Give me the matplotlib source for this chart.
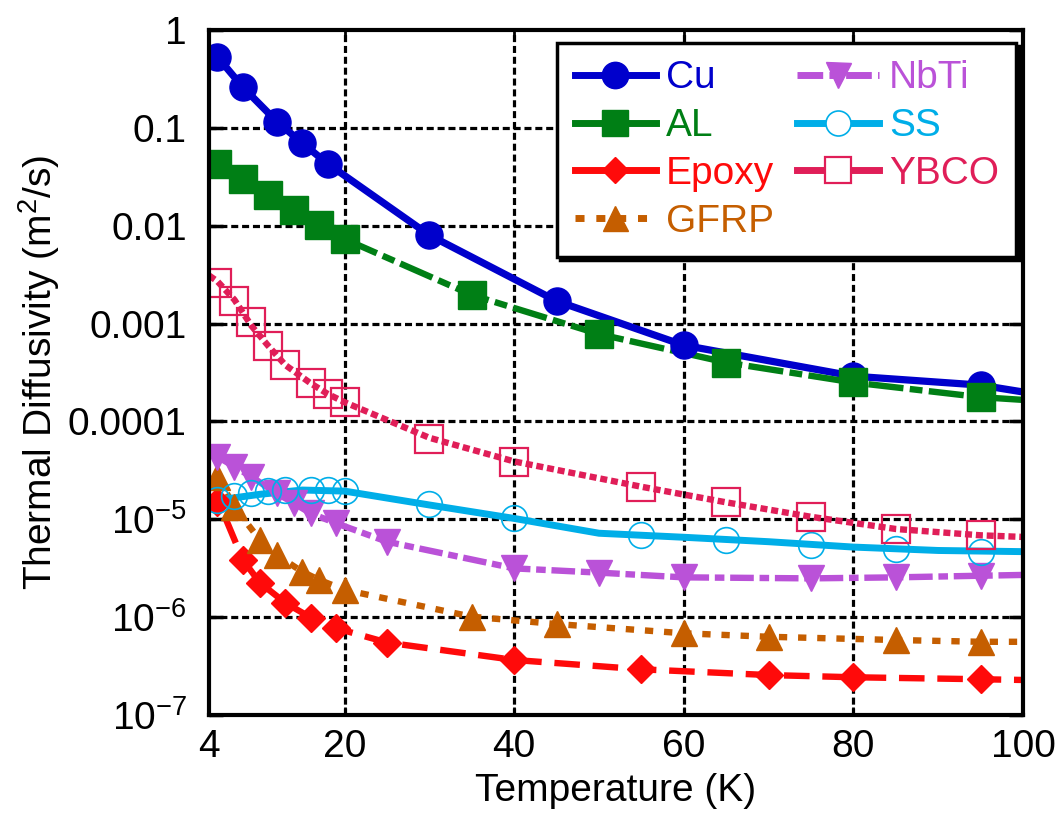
import matplotlib
matplotlib.use("Agg")
import matplotlib.pyplot as plt
from matplotlib.lines import Line2D

plt.rcParams['font.family'] = ['Liberation Sans', 'DejaVu Sans']
plt.rcParams['mathtext.fontset'] = 'custom'
plt.rcParams['mathtext.rm'] = 'Liberation Sans'
plt.rcParams['mathtext.it'] = 'Liberation Sans:italic'
plt.rcParams['mathtext.bf'] = 'Liberation Sans:bold'

# ---------------- data ----------------
cu_T = [5, 8, 12, 15, 18, 30, 45, 60, 80, 95]
cu_D = [0.53, 0.26, 0.116, 0.070, 0.043, 0.0080, 0.0017, 6.0e-4, 2.9e-4, 2.35e-4]
cu_line_T = [5, 8, 12, 15, 18, 30, 45, 60, 80, 95, 100]
cu_line_D = [0.53, 0.26, 0.116, 0.070, 0.043, 0.0080, 0.0017, 6.0e-4, 2.9e-4, 2.35e-4, 2.0e-4]

al_T = [5, 8, 11, 14, 17, 20, 35, 50, 65, 80, 95]
al_D = [0.0427, 0.030, 0.0206, 0.0145, 0.0102, 0.0073, 0.00196, 7.8e-4, 4.0e-4, 2.5e-4, 1.77e-4]
al_line_T = [20, 35, 50, 65, 80, 95, 100]
al_line_D = [0.0073, 0.00196, 7.8e-4, 4.0e-4, 2.5e-4, 1.77e-4, 1.66e-4]

epoxy_T = [5, 8, 10, 13, 16, 19, 25, 40, 55, 70, 80, 95]
epoxy_D = [1.51e-5, 3.84e-6, 2.25e-6, 1.40e-6, 9.9e-7, 7.7e-7, 5.5e-7, 3.65e-7,
           2.93e-7, 2.56e-7, 2.43e-7, 2.32e-7]
epoxy_line_T = [6, 8, 10, 13, 16, 19, 25, 40, 55, 70, 80, 95, 100]
epoxy_line_D = [1.0e-5, 3.84e-6, 2.25e-6, 1.40e-6, 9.9e-7, 7.7e-7, 5.5e-7, 3.65e-7,
                2.93e-7, 2.56e-7, 2.43e-7, 2.32e-7, 2.28e-7]

gfrp_T = [5, 7, 10, 12, 15, 17, 20, 35, 45, 60, 70, 85, 95]
gfrp_D = [2.72e-5, 1.34e-5, 6.14e-6, 4.31e-6, 2.91e-6, 2.40e-6, 1.90e-6, 1.01e-6,
          8.5e-7, 6.84e-7, 6.3e-7, 5.84e-7, 5.6e-7]
gfrp_line_T = [5, 7, 10, 12, 15, 17, 20, 35, 45, 60, 70, 85, 95, 100]
gfrp_line_D = [2.72e-5, 1.34e-5, 6.14e-6, 4.31e-6, 2.91e-6, 2.40e-6, 1.90e-6, 1.01e-6,
               8.5e-7, 6.84e-7, 6.3e-7, 5.84e-7, 5.6e-7, 5.6e-7]

nbti_T = [5, 7, 9, 12, 14, 16, 19, 25, 40, 50, 60, 75, 85, 95]
nbti_D = [4.36e-5, 3.45e-5, 2.72e-5, 1.84e-5, 1.46e-5, 1.15e-5, 9.1e-6, 5.9e-6,
          3.15e-6, 2.85e-6, 2.55e-6, 2.49e-6, 2.55e-6, 2.65e-6]
nbti_line_T = [5, 7, 9, 12, 14, 16, 19, 25, 40, 50, 60, 75, 85, 95, 100]
nbti_line_D = [4.36e-5, 3.45e-5, 2.72e-5, 1.84e-5, 1.46e-5, 1.15e-5, 9.1e-6, 5.9e-6,
               3.15e-6, 2.85e-6, 2.55e-6, 2.49e-6, 2.55e-6, 2.65e-6, 2.7e-6]

ss_T = [5, 7, 9, 11, 13, 16, 18, 20, 30, 40, 55, 65, 75, 85, 95]
ss_D = [1.57e-5, 1.73e-5, 1.87e-5, 1.96e-5, 1.99e-5, 1.99e-5, 1.99e-5, 1.96e-5,
        1.43e-5, 1.02e-5, 6.86e-6, 6.14e-6, 5.46e-6, 4.93e-6, 4.67e-6]
ss_line_T = [5, 10, 15, 20, 30, 40, 50, 60, 70, 80, 90, 100]
ss_line_D = [1.57e-5, 1.80e-5, 1.99e-5, 1.94e-5, 1.40e-5, 1.02e-5, 7.2e-6, 6.55e-6,
             5.9e-6, 5.2e-6, 4.8e-6, 4.67e-6]

ybco_T = [5, 7, 9, 11, 13, 16, 18, 20, 30, 40, 55, 65, 75, 85, 95]
ybco_D = [2.58e-3, 1.70e-3, 1.03e-3, 5.9e-4, 3.77e-4, 2.45e-4, 1.91e-4, 1.57e-4,
          6.57e-5, 3.88e-5, 2.15e-5, 1.49e-5, 1.06e-5, 7.96e-6, 6.86e-6]
ybco_line_T = [4, 5, 7, 9, 11, 13, 16, 18, 20, 30, 40, 55, 65, 75, 85, 95, 100]
ybco_line_D = [3.1e-3, 2.7e-3, 1.75e-3, 9.5e-4, 5.9e-4, 3.77e-4, 2.45e-4, 1.91e-4, 1.57e-4,
               6.8e-5, 3.9e-5, 2.15e-5, 1.49e-5, 1.06e-5, 7.96e-6, 6.86e-6, 6.6e-6]

x_ticks = [4, 20, 40, 60, 80, 100]
y_ticks = [1e-7, 1e-6, 1e-5, 1e-4, 1e-3, 1e-2, 1e-1, 1]
y_ticklabels = ['10$^{-7}$', '10$^{-6}$', '10$^{-5}$', '0.0001', '0.001', '0.01', '0.1', '1']

C_CU = '#0000CC'
C_AL = '#007F15'
C_EP = '#FF0A0A'
C_GF = '#C55E00'
C_NB = '#BA52D8'
C_SS = '#00AEE8'
C_YB = '#E01E58'

FS = 28

fig = plt.figure(figsize=(10.61, 8.19), dpi=100)
ax = fig.add_axes([209/1061, 1 - 715/819, (1023-209)/1061, (715-30)/819])
ax.set_yscale('log')
ax.set_xlim(4, 100)
ax.set_ylim(1e-7, 1)

# grid
for xv in x_ticks[1:-1]:
    ax.axvline(xv, color='black', lw=2.3, ls=(0, (2.2, 1.2)), zorder=1)
for yv in y_ticks[1:-1]:
    ax.axhline(yv, color='black', lw=2.3, ls=(0, (2.2, 1.2)), zorder=1)

lw = 4.6
# Cu
ax.plot(cu_line_T, cu_line_D, color=C_CU, lw=5.2, ls='-', zorder=3)
ax.plot(cu_T, cu_D, ls='none', marker='o', ms=19.5, color=C_CU, zorder=4)
# AL
ax.plot(al_line_T, al_line_D, color=C_AL, lw=lw, ls=(0, (5.5, 1.0, 2.0, 1.0)), zorder=3)
ax.plot(al_T, al_D, ls='none', marker='s', ms=20, color=C_AL, zorder=4)
# Epoxy
ax.plot(epoxy_line_T, epoxy_line_D, color=C_EP, lw=lw, ls=(0, (4.0, 2.0)), zorder=3)
ax.plot(epoxy_T, epoxy_D, ls='none', marker='D', ms=14, color=C_EP, zorder=4)
# GFRP
ax.plot(gfrp_line_T, gfrp_line_D, color=C_GF, lw=lw, ls=(0, (1.3, 1.7)), zorder=3)
ax.plot(gfrp_T, gfrp_D, ls='none', marker='^', ms=18.5, color=C_GF, zorder=4)
# NbTi
ax.plot(nbti_line_T, nbti_line_D, color=C_NB, lw=lw, ls=(0, (3.7, 0.9, 1.5, 0.9)), zorder=3)
ax.plot(nbti_T, nbti_D, ls='none', marker='v', ms=18.5, color=C_NB, zorder=4)
# SS
ax.plot(ss_line_T, ss_line_D, color=C_SS, lw=5, ls='-', zorder=3)
ax.plot(ss_T, ss_D, ls='none', marker='o', ms=18.5, mfc='none', mec=C_SS, mew=1.2, zorder=4)
# YBCO
ax.plot(ybco_line_T, ybco_line_D, color=C_YB, lw=lw, ls=(0, (1.1, 0.6)), zorder=3)
ax.plot(ybco_T, ybco_D, ls='none', marker='s', ms=20, mfc='none', mec=C_YB, mew=1.6, zorder=4)

# axes styling
for sp in ax.spines.values():
    sp.set_linewidth(3)
    sp.set_zorder(5)
ax.set_xticks(x_ticks)
ax.set_xticklabels([str(t) for t in x_ticks])
ax.set_yticks(y_ticks)
ax.set_yticklabels(y_ticklabels)
ax.minorticks_off()
ax.tick_params(axis='y', which='major', direction='in', length=10, width=2.5,
               left=True, right=True, labelsize=FS, pad=16)
ax.tick_params(axis='x', which='major', direction='in', length=6, width=2,
               bottom=True, top=True, labelsize=FS, pad=10)
ax.set_xlabel('Temperature (K)', fontsize=FS, labelpad=6)
ax.set_ylabel('Thermal Diffusivity (m$^2$/s)', fontsize=FS, labelpad=4)

# legend (proxy handles mirroring the reference legend)
handles = [
    Line2D([], [], color=C_CU, lw=5, ls='-', marker='o', ms=19),
    Line2D([], [], color=C_AL, lw=5, ls='-', marker='s', ms=19),
    Line2D([], [], color=C_EP, lw=5, ls='-', marker='D', ms=13.5),
    Line2D([], [], color=C_GF, lw=5, ls=(0, (1.3, 1.7)), marker='^', ms=18),
    Line2D([], [], color=C_NB, lw=5, ls=(0, (3.7, 0.9, 1.5, 0.9)), marker='v', ms=18),
    Line2D([], [], color=C_SS, lw=5, ls='-', marker='o', ms=18, mfc='white', mec=C_SS, mew=1.2),
    Line2D([], [], color=C_YB, lw=5, ls='-', marker='s', ms=19, mfc='white', mec=C_YB, mew=1.6),
]
labels = ['Cu', 'AL', 'Epoxy', 'GFRP', 'NbTi', 'SS', 'YBCO']
colors = [C_CU, C_AL, C_EP, C_GF, C_NB, C_SS, C_YB]
leg = ax.legend(handles, labels, ncol=2, loc='upper left',
                bbox_to_anchor=(557/1061, 1 - 43/819), bbox_transform=fig.transFigure,
                borderaxespad=0, fontsize=FS, frameon=True, fancybox=False,
                edgecolor='black', framealpha=1, shadow={'color': 'black', 'alpha': 1},
                handlelength=2.1, handletextpad=0.25, labelspacing=0.3,
                columnspacing=0.6, borderpad=0.45)
leg.get_frame().set_linewidth(2.5)
leg.set_zorder(10)
for t, c in zip(leg.get_texts(), colors):
    t.set_color(c)

fig.savefig('out.png', dpi=100)
